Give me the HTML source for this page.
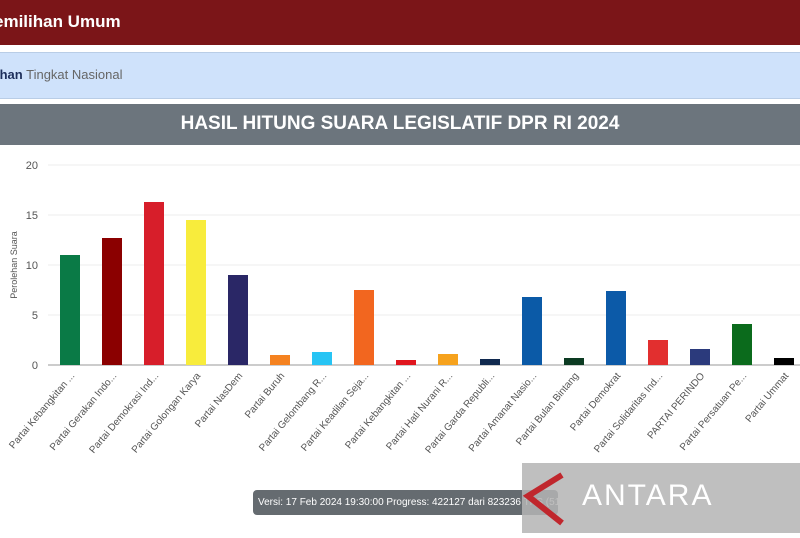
<!DOCTYPE html><html><head><style>
body{margin:0;width:800px;height:533px;overflow:hidden;background:#fff;font-family:"Liberation Sans",sans-serif;position:relative}
.hd{position:absolute;left:0;top:0;width:800px;height:45px;background:#7b1518;color:#fff;font-weight:bold;font-size:17px;line-height:44px;text-indent:-6px}
.bc{position:absolute;left:0;top:52px;width:800px;height:45px;background:#cfe2fb;border-top:1px solid #b9cde6;border-bottom:1px solid #b9cde6;font-size:13px;line-height:44px;color:#666}
.tt{position:absolute;left:0;top:104px;width:800px;height:41px;background:#6c757d;color:#fff;text-align:center;font-size:19px;font-weight:bold;line-height:40px}
.tip{position:absolute;left:253px;top:490px;width:305px;height:25px;background:#656b70;border-radius:4px;color:#fff;font-size:10px;line-height:25px;text-indent:5px;white-space:nowrap;overflow:hidden}
.wm{position:absolute;left:522px;top:463px;width:278px;height:70px;background:rgba(180,180,180,.85)}
</style></head><body>
<div class="hd">emilihan Umum</div>
<div class="bc"><b style="color:#1d2e5a;margin-left:-4px">ihan</b> Tingkat Nasional</div>
<div class="tt">HASIL HITUNG SUARA LEGISLATIF DPR RI 2024</div>
<svg width="800" height="533" style="position:absolute;left:0;top:0" font-family="Liberation Sans, sans-serif">
<g stroke="#eee"><line x1="48" x2="800" y1="165" y2="165"/><line x1="48" x2="800" y1="215" y2="215"/><line x1="48" x2="800" y1="265" y2="265"/><line x1="48" x2="800" y1="315" y2="315"/></g>
<line x1="48" x2="800" y1="365" y2="365" stroke="#999"/>
<g font-size="11" fill="#555" text-anchor="end"><text x="38" y="169">20</text><text x="38" y="219">15</text><text x="38" y="269">10</text><text x="38" y="319">5</text><text x="38" y="369">0</text></g>
<text transform="translate(17,265) rotate(-90)" font-size="9" fill="#555" text-anchor="middle">Perolehan Suara</text>
<g id="bars"></g><g id="lbl" font-size="10" fill="#555"></g>
</svg>
<div class="tip">Versi: 17 Feb 2024 19:30:00 Progress: 422127 dari 823236 TPS (51.26%)</div>
<div class="wm"><svg width="278" height="70"><path d="M40 12 L6 33 L40 60" stroke="#c0272d" stroke-width="6" fill="none"/><text x="60" y="42" font-size="30" fill="#fff" font-family="Liberation Sans" letter-spacing="2">ANTARA</text></svg></div>
<script>
var v=[11,12.7,16.3,14.5,9,1,1.3,7.5,0.5,1.1,0.6,6.8,0.7,7.4,2.5,1.6,4.1,0.7];
var c=["#0a7a46","#8b0000","#d71e2a","#f8ec3c","#2a2766","#f58220","#27c4f4","#f2661f","#e0161e","#f6a21d","#10294f","#0b5aa7","#0c3b22","#0c5aa8","#e22f2f","#2b3a7c","#0b6b1c","#000"];
var n=["Partai Kebangkitan ...","Partai Gerakan Indo...","Partai Demokrasi Ind...","Partai Golongan Karya","Partai NasDem","Partai Buruh","Partai Gelombang R...","Partai Keadilan Seja...","Partai Kebangkitan ...","Partai Hati Nurani R...","Partai Garda Republi...","Partai Amanat Nasio...","Partai Bulan Bintang","Partai Demokrat","Partai Solidaritas Ind...","PARTAI PERINDO","Partai Persatuan Pe...","Partai Ummat"];
var b="",l="";
for(var i=0;i<18;i++){var x=70+42*i,h=v[i]*10;
b+='<rect x="'+(x-10)+'" y="'+(365-h)+'" width="20" height="'+h+'" fill="'+c[i]+'"/>';
l+='<text text-anchor="end" transform="translate('+(x+5)+',376) rotate(-50)">'+n[i]+'</text>';}
document.getElementById("bars").innerHTML=b;document.getElementById("lbl").innerHTML=l;
</script>
</body></html>
